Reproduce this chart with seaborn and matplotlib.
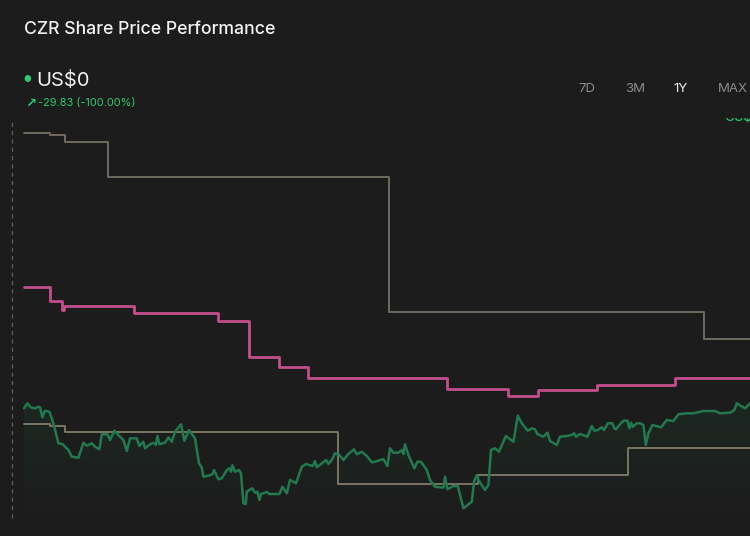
import numpy as np
import pandas as pd
import matplotlib
matplotlib.use("Agg")
import matplotlib.pyplot as plt
import seaborn as sns
from matplotlib.colors import to_rgb

# Days since start of the 1Y window, and level (relative units)
czr_days = [0, 1.7, 3.4, 5.5, 7.2, 8, 9.2, 10.4, 12.7, 14.7, 17.2, 19.2, 22.2, 23.9, 27.2,
            29.7, 31.4, 33.9, 35.5, 37.7, 38.9, 41.7, 43, 45.2, 47.2, 49.7, 51.4, 53, 56.4,
            57.7, 59.7, 60.5, 63, 64.7, 65.9, 66.7, 67.7, 70.5, 72.2, 73.9, 75.5, 78.5, 80.2,
            82.5, 85.5, 87.5, 88.9, 89.7, 92.2, 94.2, 95, 97.2, 98.9, 101.4, 102.7, 103.5,
            104.2, 105.5, 107.5, 108.5, 109.7, 110.9, 111.4, 114.2, 115.5, 116.7, 117.7,
            118.5, 121.4, 122.7, 127.7, 129.2, 131.4, 133, 136, 138.9, 141, 144.4, 145.5,
            146.4, 148.9, 151, 152.2, 153.9, 155.5, 157.2, 159.7, 162.2, 165, 166.4, 168.9,
            171.4, 173.9, 175.5, 179.7, 181.7, 183, 184.7, 187.2, 188.9, 189.7, 190.5, 192.2,
            195.2, 196.7, 198.4, 201.4, 203, 205.5, 209.7, 210.5, 211.7, 214.7, 216.9, 219.7,
            223.9, 225, 226.4, 227.2, 230.5, 232.2, 233.5, 235.5, 237.5, 240.9, 244.7, 246.9,
            248.9, 251.9, 253.9, 255.5, 256.7, 259.7, 261.7, 263, 266.4, 268, 271.4, 273.9,
            275, 276, 278, 281.7, 283.9, 285.2, 286.9, 288.9, 290, 291.9, 294.2, 295.2, 295.9,
            298, 299.7, 301.7, 302.7, 303.5, 304.4, 306.4, 308, 309.7, 310.9, 312.2, 314.2,
            318.5, 321.4, 324.7, 327.2, 331.4, 334.7, 339.7, 345.5, 348, 353, 355.2, 356.4,
            360.5, 363]
czr_level = [127.7, 132.7, 128.7, 127.7, 129.3, 128.7, 118.7, 125.3, 124.3, 112.7, 92.7, 92,
             86, 79.3, 78.3, 93.3, 90.3, 92.7, 89.3, 86.7, 101.7, 101.7, 96, 105.3, 101, 96,
             85, 97.7, 97.7, 90, 94.3, 87.7, 91.7, 93.3, 91, 100, 91.7, 93.3, 98.7, 94.3,
             104.3, 111.7, 95.3, 106, 97.7, 72.7, 68.3, 59.3, 60.3, 61.7, 66, 56.7, 57.7, 66,
             67.7, 64.3, 70.7, 64.3, 66, 62.7, 32.7, 32, 44.3, 47.7, 43.3, 44.3, 36, 42, 44,
             42, 42, 49.3, 42.7, 56, 52.7, 69.3, 72, 70, 75, 68.7, 72.7, 76, 72, 76, 82.7, 82,
             76, 82, 86.7, 81.7, 84.3, 80, 73.7, 74.3, 77, 70, 87.7, 83.3, 83.3, 86, 82, 91.7,
             81, 67.7, 74.3, 74.3, 66, 56, 49.3, 48.3, 59.3, 46.7, 50, 50, 27.7, 34.3, 54.3,
             61, 56, 46, 51, 86, 87.7, 84.3, 100, 94.3, 120.3, 112.7, 105.3, 107.7, 106.7, 102,
             99.3, 103.3, 95, 91, 99.3, 100, 101, 102.7, 99.3, 102, 99.3, 110, 105.3, 106,
             108.7, 106, 112.7, 112.7, 107.7, 106.7, 111.7, 115.3, 115.3, 107.7, 113.3, 109.3,
             112.7, 112.7, 111, 91, 102.7, 111, 108.7, 116, 115, 121.7, 122.7, 122.7, 125, 125,
             122.7, 123.3, 126, 132.7, 127.7, 132.7]

industry_days = [0, 13, 18.9, 20.2, 55, 97, 112.5, 127.5, 142, 211.7, 241.9, 257.2, 286.7, 325.5, 363]
industry_level = [248.7, 235, 226, 230, 223.3, 215.3, 179.3, 169.3, 158, 147.3, 140.3, 146, 151, 158, 158]

market_days = [0, 13, 20.5, 42, 182.7, 339.9, 363]
market_level = [402.7, 401, 394, 359.3, 223.7, 197, 197]

peer_days = [0, 13, 20.5, 157, 227.2, 302.2, 363]
peer_level = [112.3, 110.3, 103.7, 52.3, 60.7, 87.7, 87.7]

ranges = ["7D", "3M", "1Y", "MAX"]

BG = "#1c1c1c"
GREEN = "#23794f"
PINK = "#c24f8c"
GREY = "#6f6b60"
BEIGE = "#7a7566"

sns.set_theme(style="dark", rc={"axes.facecolor": BG, "figure.facecolor": BG})
plt.rcParams["font.family"] = ["Inter", "DejaVu Sans"]

fig = plt.figure(figsize=(7.5, 5.36), dpi=100)
ax = fig.add_axes([0, 0, 1, 418 / 536])
ax.set_facecolor(BG)
ax.set_xlim(-12, 363)
ax.set_ylim(0, 418)

czr = pd.DataFrame({"day": czr_days, "level": czr_level})

# fading green area under the price line
area = ax.fill_between(czr["day"], czr["level"], 0, color="none", lw=0)
grad = np.zeros((100, 1, 4))
grad[:, :, :3] = to_rgb(GREEN)
grad[:, 0, 3] = np.linspace(0.13, 0.0, 100)
img = ax.imshow(grad, aspect="auto", extent=[0, 363, 15, 135], origin="upper", zorder=1)
img.set_clip_path(area.get_paths()[0], transform=ax.transData)

sns.lineplot(x=market_days, y=market_level, ax=ax, color=GREY, lw=1.4,
             drawstyle="steps-post", estimator=None, zorder=2)
sns.lineplot(x=peer_days, y=peer_level, ax=ax, color=BEIGE, lw=1.4,
             drawstyle="steps-post", estimator=None, zorder=2)
sns.lineplot(x=industry_days, y=industry_level, ax=ax, color=PINK, lw=2,
             drawstyle="steps-post", estimator=None, zorder=3)
sns.lineplot(data=czr, x="day", y="level", ax=ax, color=GREEN, lw=1.8, estimator=None, zorder=4)

# dashed start marker
ax.axvline(-6.2, ymin=18 / 418, ymax=414 / 418, color="#5a5a5a", lw=1, ls=(0, (3, 3)))

ax.set_xlim(-12, 363)
ax.set_ylim(0, 418)
ax.set_axis_off()

# price tag at top right of the plot area, partly hidden under the header
ax.text(725 / 2 - 12, 418 - 6, "US$", color="#2ecc71", fontsize=10, ha="left", va="bottom",
        clip_on=True)

fig.text(24 / 750, 1 - 30 / 536, "CZR Share Price Performance", color="#f2f2f2",
         fontsize=12.7, fontweight="medium", va="center", ha="left")
fig.text(27 / 750, 1 - 79 / 536, "\u2022", color="#2ecc71", fontsize=15, va="center", ha="center")
fig.text(36 / 750, 1 - 80 / 536, "US$0", color="#f2f2f2", fontsize=14.5, va="center", ha="left")
fig.text(25 / 750, 1 - 103 / 536, "\u2197", color="#2ecc71", fontsize=9.5, fontweight="bold",
         va="center", ha="left", family=["DejaVu Sans"])
fig.text(38 / 750, 1 - 103 / 536, "-29.83 (-100.00%)", color="#2ecc71", fontsize=7.9,
         va="center", ha="left")

for label, xp in zip(ranges, [587, 635, 681, 733]):
    fig.text(xp / 750, 1 - 89 / 536, label, color="#f2f2f2" if label == "1Y" else "#8a8a8a",
             fontsize=9.5, va="center", ha="center")

fig.savefig("out.png", dpi=100, facecolor=BG)
